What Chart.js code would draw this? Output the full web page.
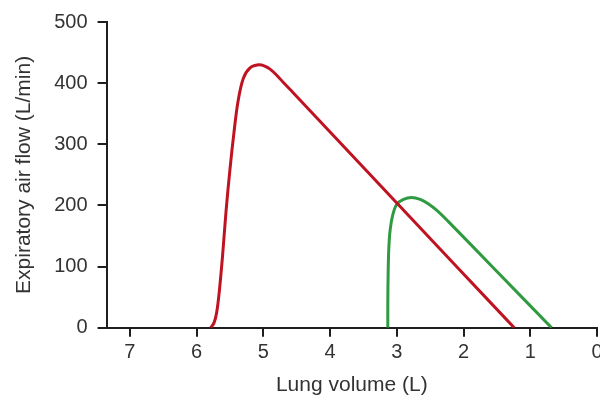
<!DOCTYPE html>
<html>
<head>
<meta charset="utf-8">
<script src="https://cdn.jsdelivr.net/npm/chart.js@4/dist/chart.umd.min.js"></script>
<style>
  html, body { margin: 0; padding: 0; background: #fff; }
  #wrap { width: 600px; height: 400px; }
</style>
</head>
<body>
<div id="wrap"><canvas id="flow-chart"></canvas></div>
<script>
// Flow-volume curves: lung volume (L) vs expiratory air flow (L/min)
const normalVolume = [5.79, 5.74, 5.70, 5.66, 5.61, 5.56, 5.50, 5.44, 5.38, 5.30, 5.20, 5.07, 4.98, 4.90, 4.80, 4.70, 4.55, 3.50, 2.00, 1.24];
const normalFlow   = [0,    8,    25,   60,   120,  190,  260,  320,  370,  408,  425,  430,  428,  423,  413,  401,  384,  262,  88,   0];

const restrictedVolume = [3.135, 3.135, 3.13, 3.12, 3.10, 3.06, 3.00, 2.90, 2.78, 2.65, 2.53, 2.40, 2.23, 1.50, 0.68];
const restrictedFlow   = [0,     40,    90,   130,  160,  185,  202,  210,  213,  210,  203,  192,  174,  92,   0];

const xTicks = [7, 6, 5, 4, 3, 2, 1, 0];
const yTicks = [0, 100, 200, 300, 400, 500];

const AXIS_COLOR = "#1e1e1e";
const TEXT_COLOR = "#333333";
const FONT       = "'Liberation Sans', Arial, sans-serif";

const toPoints = (xs, ys) => xs.map((x, i) => ({ x: x, y: ys[i] }));

const ctx = document.getElementById("flow-chart");

new Chart(ctx, {
    type: "scatter",
    data: {
        datasets: [
            {
                label:       "Normal",
                data:        toPoints(normalVolume, normalFlow),
                showLine:    true,
                borderColor: "#bf1322",
                borderWidth: 3,
                pointRadius: 0,
                tension:     0.35,
            },
            {
                label:       "Restricted",
                data:        toPoints(restrictedVolume, restrictedFlow),
                showLine:    true,
                borderColor: "#2f9a40",
                borderWidth: 3,
                pointRadius: 0,
                tension:     0.35,
            }
        ]
    },
    options: {
        responsive:          true,
        maintainAspectRatio: false,
        animation:           false,
        layout: { padding: { top: 15, right: 3, left: 6, bottom: 2 } },
        scales: {
            x: {
                type:    "linear",
                reverse: true,
                min:     0,
                max:     7.35,
                afterFit: scale => { scale.paddingRight = 0; },
                afterBuildTicks: scale => { scale.ticks = xTicks.map(v => ({ value: v })); },
                ticks: {
                    color: TEXT_COLOR,
                    font:  { family: FONT, size: 20 },
                    padding: 4,
                    maxRotation: 0,
                },
                grid:   { drawOnChartArea: false, drawTicks: true, tickLength: 9, color: AXIS_COLOR, lineWidth: 2 },
                border: { color: AXIS_COLOR, width: 2 },
                title: {
                    display: true,
                    text:    "Lung volume (L)",
                    color:   TEXT_COLOR,
                    font:    { family: FONT, size: 21 },
                    padding: { top: 4, bottom: 0 },
                },
            },
            y: {
                min: 0,
                max: 500,
                afterBuildTicks: scale => { scale.ticks = yTicks.map(v => ({ value: v })); },
                ticks: {
                    color: TEXT_COLOR,
                    font:  { family: FONT, size: 20 },
                    padding: 10,
                },
                grid:   { drawOnChartArea: false, drawTicks: true, tickLength: 9, color: AXIS_COLOR, lineWidth: 2 },
                border: { color: AXIS_COLOR, width: 2 },
                title: {
                    display: true,
                    text:    "Expiratory air flow (L/min)",
                    color:   TEXT_COLOR,
                    font:    { family: FONT, size: 21 },
                    padding: { top: 6, bottom: 7 },
                },
            }
        },
        plugins: {
            legend:  { display: false },
            tooltip: { enabled: false },
        }
    }
});
</script>
</body>
</html>
